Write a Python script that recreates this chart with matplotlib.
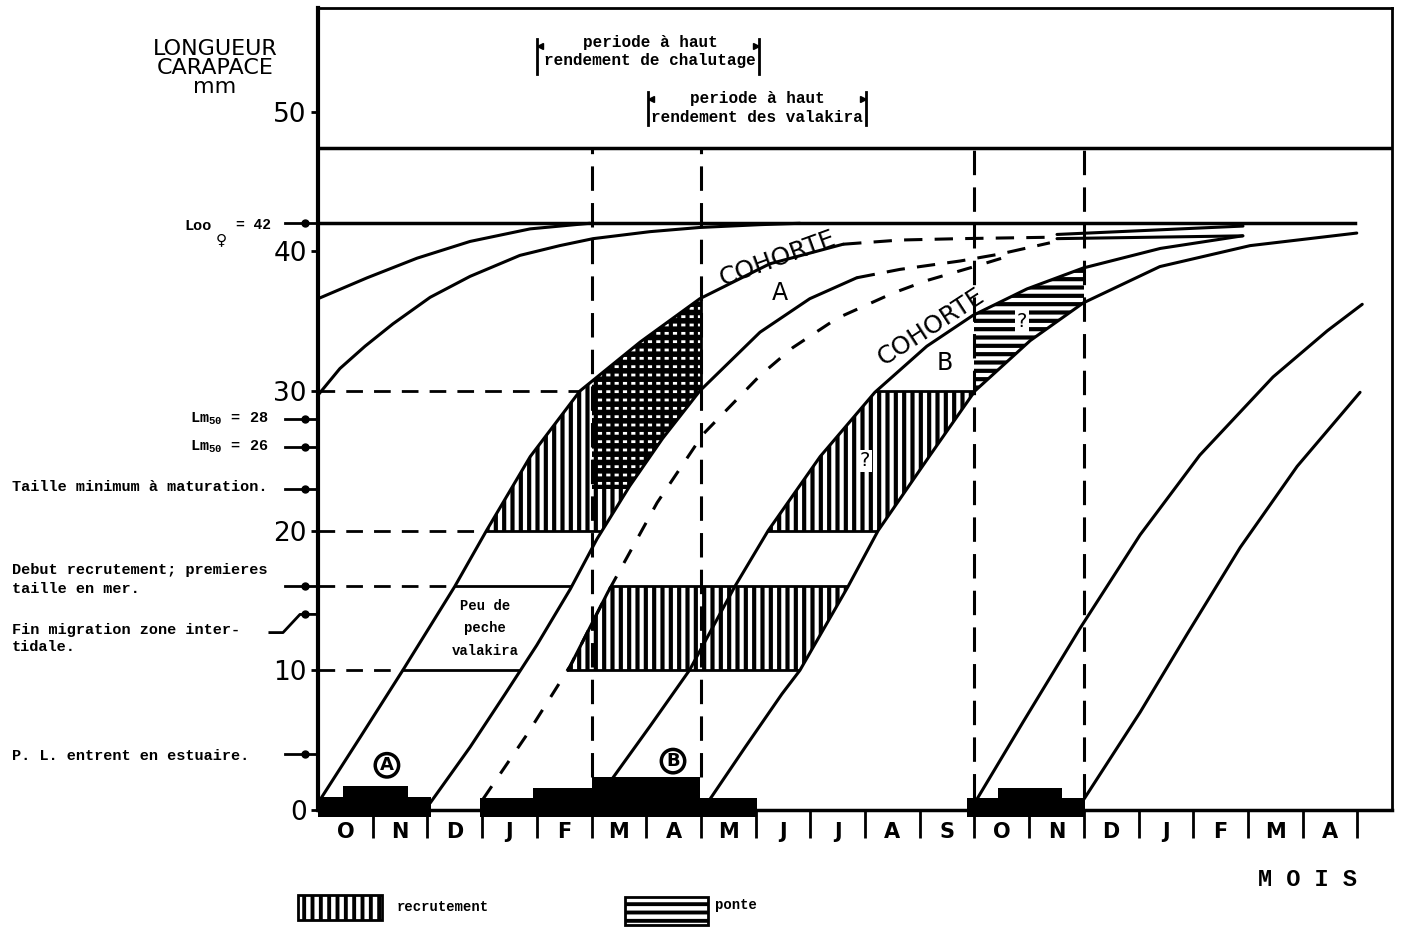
import numpy as np
import matplotlib.pyplot as plt
from matplotlib.patches import Polygon, Rectangle

plt.rcParams["font.family"] = ["DejaVu Sans"]
plt.rcParams["hatch.linewidth"] = 2.8
plt.rcParams["mathtext.default"] = "regular"

MONO = ["Liberation Mono", "DejaVu Sans Mono"]

# mois, a partir du 1er octobre
months = ["O", "N", "D", "J", "F", "M", "A", "M", "J", "J", "A", "S",
          "O", "N", "D", "J", "F", "M", "A"]

# courbes de croissance : x en mois depuis le 1er octobre, y longueur en mm
c0_x = [0.0, 0.90, 1.81, 2.78, 3.88, 4.97]
c0_y = [36.6, 38.1, 39.5, 40.7, 41.6, 42.0]

c1_x = [0.0, 0.40, 0.86, 1.37, 2.05, 2.78, 3.69, 4.42, 5.03, 6.07, 6.98, 8.08, 8.81]
c1_y = [29.7, 31.6, 33.2, 34.8, 36.7, 38.2, 39.7, 40.4, 40.9, 41.4, 41.7, 41.9, 42.0]

# cohorte A
a1_x = [0.0, 0.77, 1.55, 2.50, 3.08, 3.88, 4.79, 5.89, 6.98, 8.26, 9.60]
a1_y = [0.5, 5.2, 10.0, 16.0, 20.0, 25.3, 30.0, 33.5, 36.6, 39.1, 40.5]
a1_dash_x = [9.60, 10.64, 11.74, 13.38]
a1_dash_y = [40.5, 40.8, 40.9, 41.0]

a2_x = [2.05, 2.78, 3.42, 4.0, 4.61, 5.10, 5.70, 6.30, 6.98, 8.08, 8.99, 9.85]
a2_y = [0.5, 4.5, 8.3, 11.8, 15.8, 19.4, 23.2, 26.6, 30.0, 34.2, 36.6, 38.1]
a2_dash_x = [9.85, 10.64, 11.74, 12.47, 13.38]
a2_dash_y = [38.1, 38.7, 39.3, 39.8, 40.6]

# fins de courbes en trait plein (haut a droite)
s1_x = [13.51, 15.21, 16.91]
s1_y = [41.2, 41.5, 41.8]
s2_x = [13.51, 15.21, 16.91]
s2_y = [40.9, 41.0, 41.1]

# courbe intermediaire (tiretee, pleine entre 10 et 16 mm)
d_x = [3.02, 3.82, 4.61, 5.30, 6.20, 7.04, 8.08, 8.68, 9.49, 10.51, 11.13, 12.0, 12.5]
d_y = [0.8, 5.4, 10.3, 15.6, 22.0, 26.9, 31.1, 33.1, 35.2, 37.0, 37.9, 38.9, 39.5]

# cohorte B
b1_x = [5.39, 6.07, 6.79, 7.62, 8.23, 9.18, 10.18, 11.13, 11.97, 12.96, 13.99, 15.40, 16.90]
b1_y = [2.3, 6.0, 10.0, 16.0, 20.0, 25.3, 29.9, 33.2, 35.4, 37.3, 38.8, 40.2, 41.1]
b2_x = [7.17, 7.81, 8.48, 8.81, 9.69, 10.24, 11.19, 12.01, 13.02, 13.99, 15.39, 17.04, 18.99]
b2_y = [0.8, 4.5, 8.3, 10.0, 16.0, 20.0, 25.4, 30.0, 33.6, 36.3, 38.9, 40.4, 41.3]

# cohorte suivante
e1_x = [12.05, 12.89, 13.93, 15.03, 16.12, 17.46, 18.45, 19.09]
e1_y = [0.8, 6.3, 13.0, 19.7, 25.4, 31.0, 34.3, 36.2]
e2_x = [13.99, 15.03, 15.89, 16.86, 17.90, 19.05]
e2_y = [0.7, 7.0, 12.6, 18.8, 24.6, 29.9]

# periodes de ponte (barres noires)
spawn_left = [0.0, 0.46, 2.96, 3.93, 5.0, 11.86, 12.43]
spawn_right = [2.06, 1.65, 8.03, 6.98, 6.98, 14.03, 13.60]
spawn_top = [0.9, 1.75, 0.85, 1.6, 2.35, 0.85, 1.6]
spawn_bottom = -0.5

# limites verticales (debut mars, debut mai, debut oct., debut dec.)
vline_x = [5, 7, 12, 14]
vline_low = [2.35, 2.35, 0.85, 0.85]
sep_y = 47.4
loo = 42
loo_end = 18.95

# reperes de taille sur l'axe
mark_y = [42, 28, 26, 23, 16, 4]

fig = plt.figure(figsize=(14.12, 9.35), dpi=100)
ax = fig.add_axes([318 / 1412, 1 - 810 / 935, 1074 / 1412, 802 / 935])
ax.set_xlim(0, 19.634)
ax.set_ylim(0, 57.41)

for side, lw in [("left", 3), ("bottom", 2.5), ("top", 2), ("right", 2)]:
    ax.spines[side].set_linewidth(lw)

ax.set_xticks(range(1, 20))
ax.set_xticklabels([])
ax.tick_params(axis="x", direction="out", length=20, width=2)
ax.set_yticks([0, 10, 20, 30, 40, 50])
ax.set_yticklabels(["0", "10", "20", "30", "40", "50"], fontsize=19)
ax.tick_params(axis="y", direction="out", length=5, width=2, pad=3)

for k, m in enumerate(months):
    ax.text(k + 0.5, -1.6, m, ha="center", va="center", fontsize=15,
            fontweight="bold", clip_on=False)

# cadre superieur
ax.axhline(sep_y, color="black", lw=2.5)
ax.plot([0, loo_end], [loo, loo], color="black", lw=2.5)

line_kw = dict(color="black", lw=2.2, solid_capstyle="round", zorder=3)
dash_kw = dict(color="black", lw=2.2, ls=(0, (6, 4)), zorder=3)
for cx, cy in [(c0_x, c0_y), (c1_x, c1_y), (a1_x, a1_y), (a2_x, a2_y),
               (s1_x, s1_y), (s2_x, s2_y), (b1_x, b1_y), (b2_x, b2_y),
               (e1_x, e1_y), (e2_x, e2_y)]:
    ax.plot(cx, cy, **line_kw)
ax.plot(a1_dash_x, a1_dash_y, **dash_kw)
ax.plot(a2_dash_x, a2_dash_y, **dash_kw)
ax.plot(d_x, d_y, color="black", lw=2.2, ls=(0, (5, 5)), zorder=3)
d_solid, = ax.plot(d_x, d_y, **line_kw)
d_solid.set_clip_path(Rectangle((0, 10), 20, 6, transform=ax.transData))

# zones hachurees
band_a = Polygon(list(zip(a1_x, a1_y)) + list(zip(a2_x, a2_y))[::-1],
                 closed=True, transform=ax.transData)
band_b = Polygon(list(zip(b1_x, b1_y)) + list(zip(b2_x, b2_y))[::-1],
                 closed=True, transform=ax.transData)
band_db = Polygon(list(zip(d_x, d_y)) + list(zip(b2_x, b2_y))[::-1],
                  closed=True, transform=ax.transData)
left_a1 = Polygon([(-1, -1)] + list(zip(a1_x, a1_y)) + [(a1_x[-1], 60), (-1, 60)],
                  closed=True, transform=ax.transData)

zones = [
    ((0, 20), 7, 30, "||", 2, 3.0, band_a),
    ((5, 23), 2, 25, "--", 0, 4.0, band_a),
    ((0, 10), 10, 6, None, 2, 2.8, band_a),
    ((0, 20), 19, 10, "||", 2, 3.0, band_b),
    ((12, 0), 2, 45, "--", 0, 3.0, band_b),
    ((0, 10), 19, 6, "||", 2, 3.0, band_db),
]
for xy, w, h, hatch, lw, hlw, clip in zones:
    plt.rcParams["hatch.linewidth"] = hlw
    patch = Rectangle(xy, w, h, hatch=hatch, lw=lw, fc="none", ec="black", zorder=2)
    if hasattr(patch, "set_hatch_linewidth"):
        patch.set_hatch_linewidth(hlw)
    ax.add_patch(patch)
    patch.set_clip_path(clip)
plt.rcParams["hatch.linewidth"] = 2.8

for y in [10, 16, 20, 30]:
    ln, = ax.plot([0, 10], [y, y], ls=(0, (6, 4)), color="black", lw=2)
    ln.set_clip_path(left_a1)

for x, low in zip(vline_x, vline_low):
    ax.plot([x, x], [low, sep_y], ls=(0, (8, 4)), color="black", lw=2.2)

ax.bar(spawn_left, [t - spawn_bottom for t in spawn_top],
       width=[r - l for l, r in zip(spawn_left, spawn_right)],
       bottom=spawn_bottom, align="edge", color="black", clip_on=False, zorder=4)

circ = dict(boxstyle="circle,pad=0.15", fc="white", ec="black", lw=2.5)
ax.text(1.26, 3.2, "A", ha="center", va="center", fontsize=13,
        fontweight="bold", bbox=circ, zorder=5)
ax.text(6.49, 3.5, "B", ha="center", va="center", fontsize=13,
        fontweight="bold", bbox=circ, zorder=5)

ax.text(8.41, 39.5, "COHORTE", rotation=20, ha="center", va="center", fontsize=18)
ax.text(8.45, 37.0, "A", ha="center", va="center", fontsize=17)
ax.text(11.2, 34.6, "COHORTE", rotation=33, ha="center", va="center", fontsize=18)
ax.text(11.46, 32.0, "B", ha="center", va="center", fontsize=17)
ax.text(10.0, 25.0, "?", ha="center", va="center", fontsize=14,
        bbox=dict(fc="white", ec="none", pad=1), zorder=3)
ax.text(12.87, 35.0, "?", ha="center", va="center", fontsize=14,
        bbox=dict(fc="white", ec="none", pad=1), zorder=3)
ax.text(3.05, 13.0, "Peu de\npeche\nvalakira", ha="center", va="center",
        fontsize=10, family=MONO, fontweight="bold", linespacing=1.75)

# periodes a haut rendement
ax.text(6.07, 54.3, "periode à haut\nrendement de chalutage", ha="center",
        va="center", fontsize=11.5, family=MONO, fontweight="bold", linespacing=1.3)
ax.text(8.03, 50.25, "periode à haut\nrendement des valakira", ha="center",
        va="center", fontsize=11.5, family=MONO, fontweight="bold", linespacing=1.3)
for x0, x1, lo, hi in [(4.0, 8.06, 52.7, 55.2), (6.03, 10.02, 49.0, 51.4)]:
    ax.plot([x0, x0], [lo, hi], color="black", lw=2)
    ax.plot([x1, x1], [lo, hi], color="black", lw=2)
    ax.plot([x0 + 0.06], [hi - 0.5], marker="<", ms=4, color="black")
    ax.plot([x1 - 0.06], [hi - 0.5], marker=">", ms=4, color="black")

# reperes sur l'axe vertical
for y in mark_y:
    ax.plot([-0.6, 0], [y, y], color="black", lw=2, clip_on=False)
    ax.plot([-0.24], [y], marker="o", ms=5, color="black", clip_on=False)
ax.plot([-0.88, -0.64, -0.33, 0], [12.7, 12.7, 14, 14], color="black", lw=2,
        clip_on=False)
ax.plot([-0.24], [14], marker="o", ms=5, color="black", clip_on=False)

txt = dict(family=MONO, fontweight="bold", fontsize=11, va="center", clip_on=False)
ax.text(-1.95, 41.8, "Loo", ha="right", **txt)
ax.text(-1.76, 40.8, "♀", ha="center", va="center", fontsize=11, clip_on=False)
ax.text(-1.5, 41.9, "= 42", ha="left", family=MONO, fontweight="bold",
        fontsize=10.5, va="center", clip_on=False)
ax.text(-0.91, 28, "Lm$_{50}$ = 28", ha="right", **txt)
ax.text(-0.91, 26, "Lm$_{50}$ = 26", ha="right", **txt)
ax.text(-5.59, 23.1, "Taille minimum à maturation.", ha="left", **txt)
ax.text(-5.59, 16.5, "Debut recrutement; premieres\ntaille en mer.", ha="left",
        linespacing=1.45, **txt)
ax.text(-5.59, 12.3, "Fin migration zone inter-\ntidale.", ha="left",
        linespacing=1.3, **txt)
ax.text(-5.59, 3.9, "P. L. entrent en estuaire.", ha="left", **txt)

fig.text(215 / 1412, 1 - 68 / 935, "LONGUEUR\nCARAPACE\nmm", ha="center",
         va="center", fontsize=16, linespacing=0.95,
         family=["Liberation Sans Narrow", "DejaVu Sans"])
ax.text(18.08, -5.0, "M O I S", ha="center", va="center", fontsize=17,
        family=MONO, fontweight="bold", clip_on=False)

# legende
leg1 = Rectangle((298 / 1412, 1 - 920 / 935), 84 / 1412, 25 / 935,
                 transform=fig.transFigure, fc="none", ec="black", lw=2, hatch="||")
leg2 = Rectangle((625 / 1412, 1 - 925 / 935), 83 / 1412, 28 / 935,
                 transform=fig.transFigure, fc="none", ec="black", lw=2, hatch="--")
fig.add_artist(leg1)
fig.add_artist(leg2)
fig.text(397 / 1412, 1 - 907 / 935, "recrutement", ha="left", va="center",
         fontsize=10, family=MONO, fontweight="bold")
fig.text(715 / 1412, 1 - 905 / 935, "ponte", ha="left", va="center",
         fontsize=10, family=MONO, fontweight="bold")

fig.savefig("out.png", dpi=100)
